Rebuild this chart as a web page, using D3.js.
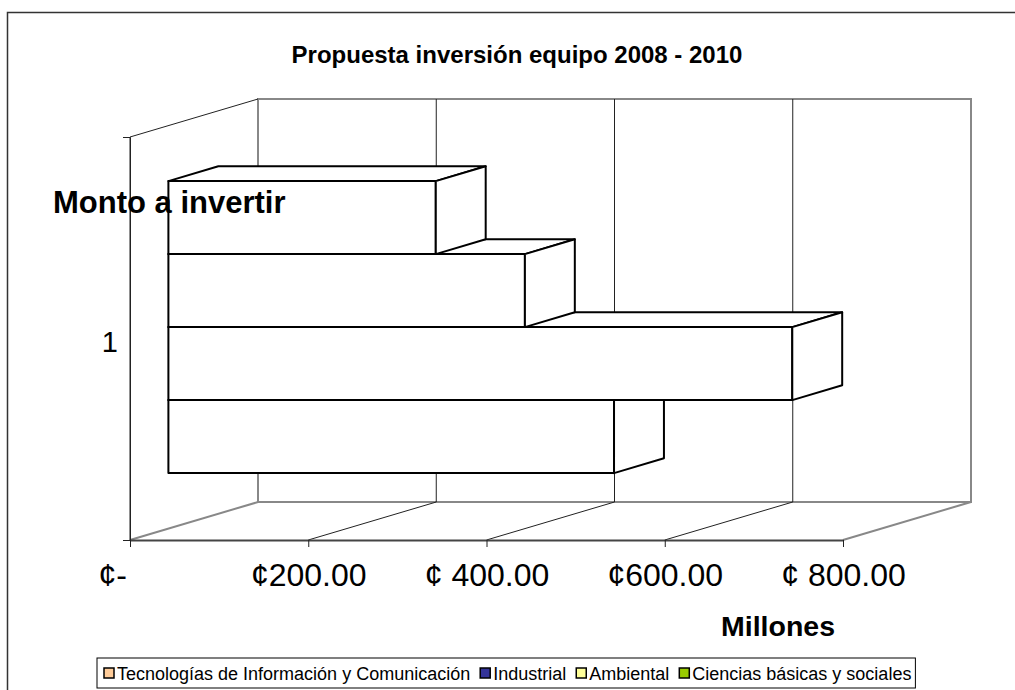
<!DOCTYPE html>
<html lang="es">
<head>
    <meta charset="UTF-8">
    <title>Propuesta inversión equipo 2008 - 2010</title>
    <script src="https://cdn.jsdelivr.net/npm/d3@7/dist/d3.min.js"></script>
    <style>
        body { margin: 0; background: #fff; }
        svg { display: block; font-family: 'Liberation Sans', Arial, sans-serif; }
    </style>
</head>
<body>
    <div class="chart"></div>
</body>
<script>
    const categories = ['1']
    const seriesNames = ['Tecnologías de Información y Comunicación', 'Industrial', 'Ambiental', 'Ciencias básicas y sociales']
    const seriesValues = [500, 700, 400, 300]
    const tickValues = [0, 200, 400, 600, 800]
    const tickLabels = ['¢-    ', '¢200.00', '¢ 400.00', '¢600.00', '¢ 800.00']
    const seriesColors = ['#FFCC99', '#333399', '#FFFF99', '#99CC00']

    const width = 1015
    const height = 690
    const svg = d3.select('.chart')
        .append('svg')
        .attr('width', width)
        .attr('height', height)

    // 3d box: front plane, then shifted back by depth
    const depth = { dx: 128, dy: -38 }
    const barZ = [0.3, 0.69]
    const P = (x, y, z) => [x + z * depth.dx, y + z * depth.dy]

    const xScale = d3.scaleLinear().domain([0, 800]).range([130, 843])
    const yBand = d3.scaleBand().domain(categories).range([137, 540]).paddingInner(0).paddingOuter(0.19)
    const ySeries = d3.scaleBand().domain(d3.range(seriesNames.length).reverse()).range([0, yBand.bandwidth()])

    const yTop = yBand.range()[0]
    const yBottom = yBand.range()[1]
    const x0 = xScale.range()[0]
    const x1 = xScale.range()[1]

    // chart area border
    svg.append('rect')
        .attr('x', 7.5).attr('y', 12.5)
        .attr('width', width + 20).attr('height', height + 20)
        .attr('fill', 'none').attr('stroke', '#333').attr('stroke-width', 1.5)

    svg.append('text')
        .attr('x', 517).attr('y', 63)
        .attr('text-anchor', 'middle')
        .attr('font-size', 24).attr('font-weight', 'bold')
        .text('Propuesta inversión equipo 2008 - 2010')

    const line = d3.line()
    const walls = svg.append('g')

    // back wall
    walls.append('path')
        .attr('d', line([P(x0, yTop, 1), P(x1, yTop, 1), P(x1, yBottom, 1), P(x0, yBottom, 1)]) + 'Z')
        .attr('fill', 'none').attr('stroke', '#888').attr('stroke-width', 2)

    // gridlines on back wall and floor
    walls.selectAll('.grid')
        .data(tickValues.slice(1, -1))
        .enter().append('path')
        .attr('class', 'grid')
        .attr('d', d => line([P(xScale(d), yTop, 1), P(xScale(d), yBottom, 1), P(xScale(d), yBottom, 0)]))
        .attr('fill', 'none').attr('stroke', '#222').attr('stroke-width', 1)

    // floor side edges
    walls.selectAll('.floorEdge')
        .data([0, 800])
        .enter().append('path')
        .attr('class', 'floorEdge')
        .attr('d', d => line([P(xScale(d), yBottom, 0), P(xScale(d), yBottom, 1)]))
        .attr('stroke', '#888').attr('stroke-width', 2)

    // side wall
    walls.append('path')
        .attr('d', line([P(x0, yBottom, 0), P(x0, yTop, 0), P(x0, yTop, 1)]))
        .attr('fill', 'none').attr('stroke', '#222').attr('stroke-width', 1)

    // bars, bottom series first
    const bars = svg.append('g')
        .selectAll('g')
        .data(seriesValues)
        .enter().append('g')

    const faces = (v, i) => {
        const xa = xScale(0)
        const xb = xScale(v)
        const ya = yBand(categories[0]) + ySeries(i)
        const yb = ya + ySeries.bandwidth()
        const [z0, z1] = barZ
        return [
            [P(xa, ya, z0), P(xb, ya, z0), P(xb, yb, z0), P(xa, yb, z0)],
            [P(xa, ya, z0), P(xa, ya, z1), P(xb, ya, z1), P(xb, ya, z0)],
            [P(xb, ya, z0), P(xb, ya, z1), P(xb, yb, z1), P(xb, yb, z0)]
        ]
    }

    bars.selectAll('path')
        .data((d, i) => faces(d, i))
        .enter().append('path')
        .attr('d', d => line(d) + 'Z')
        .attr('fill', '#fff')
        .attr('stroke', '#000')
        .attr('stroke-width', 2)
        .attr('stroke-linejoin', 'round')

    // value axis on the front floor edge
    const xAxis = d3.axisBottom(xScale)
        .tickValues(tickValues)
        .tickFormat((d, i) => tickLabels[i])
        .tickSizeInner(7)
        .tickSizeOuter(0)
        .tickPadding(16)
    const gx = svg.append('g')
        .attr('transform', `translate(0, ${yBottom})`)
        .call(xAxis)
    gx.select('.domain').attr('stroke', '#444').attr('stroke-width', 2)
    gx.selectAll('.tick line').attr('stroke', '#222')
    gx.selectAll('.tick text')
        .attr('fill', '#000')
        .attr('font-size', 32)
        .attr('font-family', "'Liberation Sans', Arial, sans-serif")
        .style('white-space', 'pre')

    // category axis
    const yAxis = d3.axisLeft(yBand)
        .tickSizeInner(0)
        .tickSizeOuter(7)
        .tickPadding(12)
    const gy = svg.append('g')
        .attr('transform', `translate(${x0}, 0)`)
        .call(yAxis)
    gy.select('.domain').attr('stroke', '#222')
    gy.selectAll('.tick text')
        .attr('fill', '#000')
        .attr('font-size', 29)
        .attr('font-family', "'Liberation Sans', Arial, sans-serif")
        .attr('dy', '0.45em')

    svg.append('text')
        .attr('x', 53).attr('y', 213)
        .attr('font-size', 31).attr('font-weight', 'bold')
        .text('Monto a invertir')

    svg.append('text')
        .attr('x', 835).attr('y', 636)
        .attr('text-anchor', 'end')
        .attr('font-size', 28.5).attr('font-weight', 'bold')
        .text('Millones')

    // legend
    const legend = svg.append('g')
    const legendBox = legend.append('rect')
        .attr('fill', '#fff').attr('stroke', '#000').attr('stroke-width', 1)
    let lx = 0
    seriesNames.forEach((name, i) => {
        const item = legend.append('g').attr('transform', `translate(${lx}, 0)`)
        item.append('rect')
            .attr('x', 1).attr('y', -12)
            .attr('width', 10).attr('height', 10)
            .attr('fill', seriesColors[i])
            .attr('stroke', '#000').attr('stroke-width', 1.5)
        const t = item.append('text')
            .attr('x', 14).attr('y', 0)
            .attr('font-size', 18)
            .text(name)
        lx += 14 + t.node().getComputedTextLength() + (i < seriesNames.length - 1 ? 9 : 0)
    })
    legendBox.attr('x', -6).attr('y', -22).attr('width', lx + 10).attr('height', 30)
    legend.attr('transform', `translate(${Math.round(507 - lx / 2)}, 680)`)
</script>
</html>
